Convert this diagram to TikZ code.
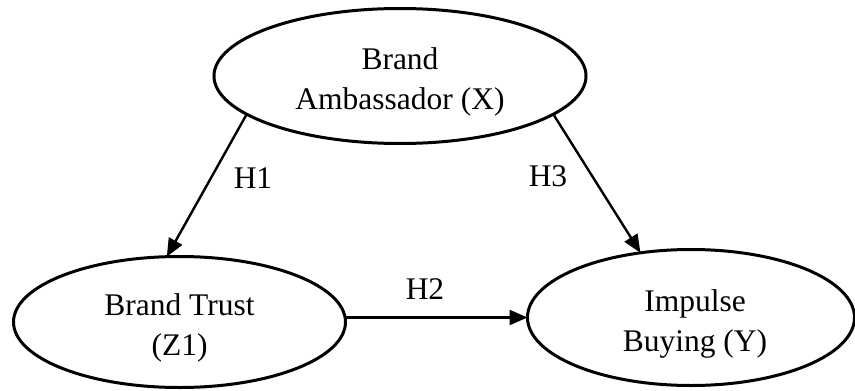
\documentclass[tikz,border=0pt]{standalone}
\usepackage{fontspec}
\setmainfont{Liberation Serif}
\usetikzlibrary{shapes.geometric,arrows.meta}
\tikzset{
  bubble/.style={ellipse, draw, line width=3pt, inner sep=0pt, outer sep=0pt},
  btext/.style={align=center, font=\fontsize{31.5}{40}\selectfont, yshift=-6pt},
  hlabel/.style={font=\fontsize{31.5}{38}\selectfont, inner sep=0pt},
  conn/.style={line width=2.4pt, -{Triangle[length=18pt,width=15pt]}}
}
\begin{document}
\begin{tikzpicture}[x=1pt,y=-1pt]
\path[use as bounding box] (0,0) rectangle (855,391);
\node[bubble, minimum width=372pt, minimum height=135pt,
      label={[btext]center:{Brand\\Ambassador (X)}}] (top) at (400,76) {};
\node[bubble, minimum width=332pt, minimum height=131pt,
      label={[btext]center:{Brand Trust\\(Z1)}}] (left) at (179.5,322) {};
\node[bubble, minimum width=327pt, minimum height=136pt,
      label={[btext,xshift=4pt]center:{Impulse\\Buying (Y)}}] (right) at (691,317.5) {};
\draw[conn] (top.194) -- (left.101);
\draw[conn] (top.-14) -- (right.128);
\draw[conn] (left.east |- right.west) -- (right.west);
\node[hlabel] (h1) at (253,178) {H1};
\node[hlabel] (h3) at (548,176) {H3};
\node[hlabel] (h2) at (425,289) {H2};
\end{tikzpicture}
\end{document}
